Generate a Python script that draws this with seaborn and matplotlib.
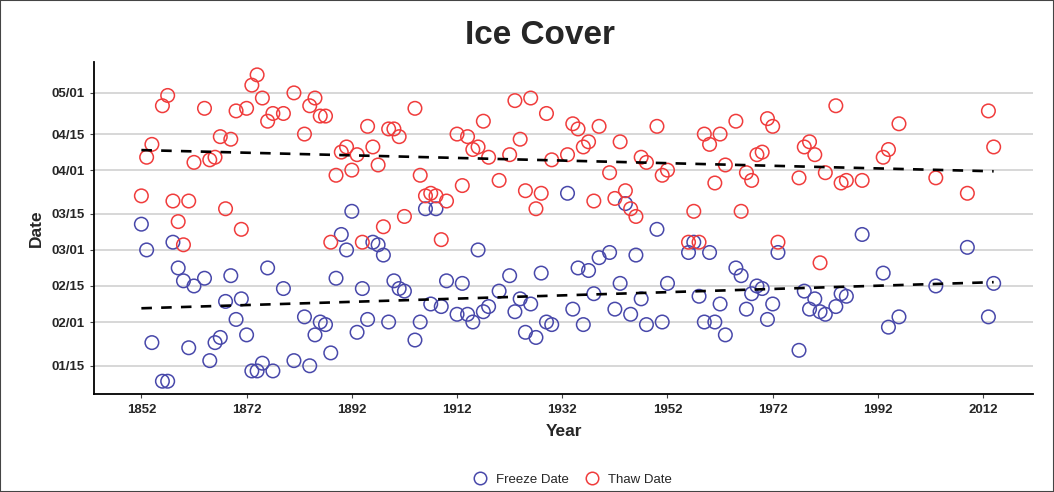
import pandas as pd
import matplotlib
matplotlib.use("Agg")
import matplotlib.pyplot as plt
from matplotlib.lines import Line2D
from matplotlib.patches import Rectangle
import seaborn as sns

freeze_years = [1852, 1853, 1854, 1856, 1857, 1858, 1859, 1860, 1861, 1862, 1864, 1865, 1866, 1867,
                1868, 1869, 1870, 1871, 1872, 1873, 1874, 1875, 1876, 1877, 1879, 1881, 1883, 1884,
                1885, 1886, 1887, 1888, 1889, 1890, 1891, 1892, 1893, 1894, 1895, 1896, 1897, 1898,
                1899, 1900, 1901, 1902, 1904, 1905, 1906, 1907, 1908, 1909, 1910, 1912, 1913, 1914,
                1915, 1916, 1917, 1918, 1920, 1922, 1923, 1924, 1925, 1926, 1927, 1928, 1929, 1930,
                1933, 1934, 1935, 1936, 1937, 1938, 1939, 1941, 1942, 1943, 1944, 1945, 1946, 1947,
                1948, 1950, 1951, 1952, 1956, 1957, 1958, 1959, 1960, 1961, 1962, 1963, 1965, 1966,
                1967, 1968, 1969, 1970, 1971, 1972, 1973, 1977, 1978, 1979, 1980, 1981, 1982, 1984,
                1985, 1986, 1989, 1993, 1994, 1996, 2003, 2009, 2013, 2014]
freeze_days = [70, 60, 24, 9, 9, 63, 53, 48, 22, 46, 49, 17, 24, 26,
               40, 50, 33, 41, 27, 13, 13, 16, 53, 13, 45, 17, 34, 15,
               27, 32, 31, 20, 49, 66, 60, 75, 28, 45, 33, 63, 62, 58,
               32, 48, 45, 44, 25, 32, 76, 39, 76, 38, 48, 35, 47, 35,
               32, 60, 36, 38, 44, 50, 36, 41, 28, 39, 26, 51, 32, 31,
               82, 37, 53, 31, 52, 43, 57, 59, 37, 47, 78, 35, 58, 41,
               31, 68, 32, 47, 59, 63, 42, 32, 59, 32, 39, 27, 53, 50,
               37, 43, 46, 45, 33, 39, 59, 21, 44, 37, 41, 36, 35, 38,
               43, 42, 66, 51, 30, 34, 46, 61, 34, 47]

thaw_years = freeze_years
thaw_days = [81, 96, 101, 116, 120, 79, 71, 62, 79, 94, 115, 95, 96, 104,
             76, 103, 114, 68, 115, 124, 128, 119, 110, 113, 113, 121, 105, 116,
             119, 112, 112, 63, 89, 98, 100, 91, 97, 63, 108, 100, 93, 69,
             107, 107, 104, 73, 115, 89, 81, 82, 81, 64, 79, 105, 85, 104,
             99, 100, 110, 96, 87, 97, 118, 103, 83, 119, 76, 82, 113, 95,
             97, 109, 107, 100, 102, 79, 108, 90, 80, 102, 83, 76, 73, 96,
             94, 108, 89, 91, 63, 75, 63, 105, 101, 86, 105, 93, 110, 75,
             90, 87, 97, 98, 111, 108, 63, 88, 100, 102, 97, 55, 90, 116,
             86, 87, 87, 96, 99, 109, 88, 82, 114, 100]

date_ticks = ["01/15", "02/01", "02/15", "03/01", "03/15", "04/01", "04/15", "05/01"]
year_ticks = [1852, 1872, 1892, 1912, 1932, 1952, 1972, 1992, 2012]
series_names = ["Freeze Date", "Thaw Date"]
series_colors = ["#4848aa", "#f03c3c"]

df = pd.concat([
    pd.DataFrame({"Year": freeze_years, "Day": freeze_days, "Series": series_names[0]}),
    pd.DataFrame({"Year": thaw_years, "Day": thaw_days, "Series": series_names[1]}),
])

# posiciones de las marcas del eje y (año no bisiesto)
tick_days = pd.to_datetime(["2001/" + d for d in date_ticks], format="%Y/%m/%d").dayofyear

sns.set_style("white")
plt.rcParams["font.family"] = ["Liberation Sans", "DejaVu Sans"]

fig = plt.figure(figsize=(10.54, 4.92), dpi=100)
ax = fig.add_axes([0.0892, 0.199, 0.891, 0.675])

for d in tick_days:
    ax.axhline(d, color="#d4d4d4", lw=1.3, zorder=0)

for name, color in zip(series_names, series_colors):
    sub = df[df["Series"] == name]
    sns.scatterplot(data=sub, x="Year", y="Day", ax=ax, s=95, facecolors="none",
                    edgecolor=color, linewidth=1.1, legend=False, zorder=3)
    sns.regplot(data=sub, x="Year", y="Day", ax=ax, scatter=False, ci=None,
                color="black", line_kws=dict(lw=1.9, dashes=(4, 3.5), zorder=4))

ax.set_xlim(1843, 2021.5)
ax.set_ylim(4, 133)
ax.set_xticks(year_ticks)
ax.set_xticklabels(year_ticks, fontweight="bold", fontsize=9.5)
ax.set_yticks(tick_days)
ax.set_yticklabels(date_ticks, fontweight="bold", fontsize=9.5)
ax.tick_params(length=3, width=0.8, color="#444444", pad=4, bottom=True, left=True)

for side in ["top", "right"]:
    ax.spines[side].set_visible(False)
for side in ["left", "bottom"]:
    ax.spines[side].set_color("black")
    ax.spines[side].set_linewidth(1.3)

ax.set_xlabel("Year", fontweight="bold", fontsize=12.5, labelpad=6)
ax.set_ylabel("Date", fontweight="bold", fontsize=12.5, labelpad=5)

fig.text(0.512, 0.928, "Ice Cover", ha="center", va="center", fontsize=24, fontweight="bold")

handles = [Line2D([], [], marker="o", ls="none", mfc="none", mec=c, ms=9, mew=1.1)
           for c in series_colors]
fig.legend(handles, series_names, loc="center", bbox_to_anchor=(0.54, 0.025), ncol=2,
           frameon=False, fontsize=9.5, handletextpad=0.2, columnspacing=0.8)

fig.patches.append(Rectangle((0, 0), 1, 1, transform=fig.transFigure, fill=False,
                             ec="#444444", lw=1.5))

fig.savefig("out.png", dpi=100)
